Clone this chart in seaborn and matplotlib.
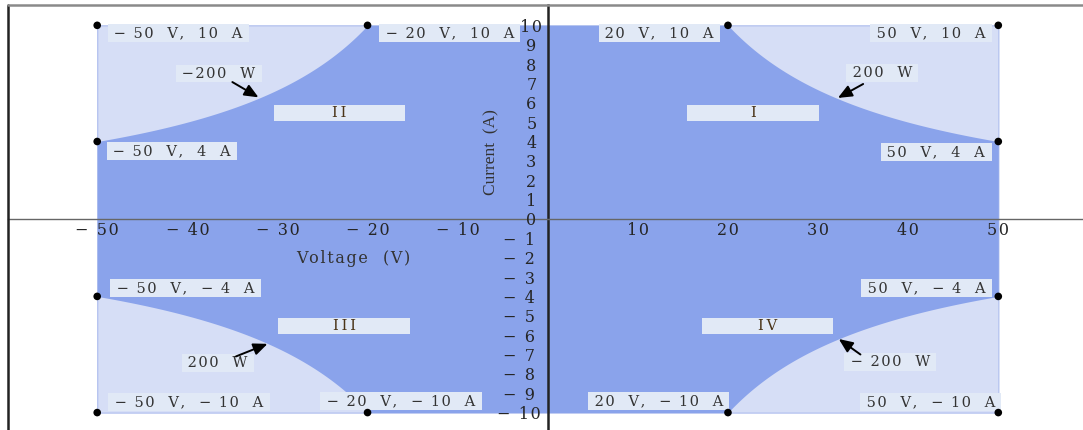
import numpy as np
import matplotlib
matplotlib.use("Agg")
import matplotlib.pyplot as plt
from matplotlib.lines import Line2D
from matplotlib.patches import Rectangle
import matplotlib.transforms as mtransforms
import seaborn as sns
import pandas as pd

# ---------------- data ----------------
voltage_limit = 50      # V
current_limit = 10      # A
power_limit = 200       # W
voltage_ticks = [-50, -40, -30, -20, -10, 10, 20, 30, 40, 50]
current_ticks = list(range(-10, 11))

corner_voltage = [-50, -20, 20, 50, -50, 50, -50, 50, -50, -20, 20, 50]
corner_current = [10, 10, 10, 10, 4, 4, -4, -4, -10, -10, -10, -10]
corner_labels = ["− 50  V,  10  A", "− 20  V,  10  A", "20  V,  10  A", "50  V,  10  A",
                 "− 50  V,  4  A", "50  V,  4  A", "− 50  V,  − 4  A", "50  V,  − 4  A",
                 "− 50  V,  − 10  A", "− 20  V,  − 10  A", "20  V,  − 10  A", "50  V,  − 10  A"]

quadrant_names = ["I", "II", "III", "IV"]
power_labels = ["200  W", "−200  W", "200  W", "− 200  W"]

# ---------------- layout (label positions) ----------------
corner_label_pos = [(-41.0, 9.6), (-10.9, 9.6), (12.4, 9.6), (42.5, 9.6),
                    (-41.7, 3.5), (43.1, 3.46), (-40.2, -3.56), (42.0, -3.56),
                    (-39.8, -9.45), (-16.3, -9.4), (12.3, -9.4), (42.5, -9.45)]
quadrant_pos = [(22.8, 5.47), (-23.1, 5.47), (-22.6, -5.52), (24.4, -5.52)]
power_text_pos = [(37.1, 7.54), (-36.5, 7.5), (-36.6, -7.43), (38.0, -7.4)]
power_arrow_tail = [(35.0, 6.97), (-35.0, 7.07), (-34.6, -7.1), (34.7, -7.0)]
power_arrow_head = [(32.2, 6.25), (-32.1, 6.28), (-31.1, -6.45), (32.3, -6.2)]

light_col = "#d6def6"
dark_col = "#8aa3eb"
box_col = "#e1e9f6"
text_col = "#333333"

sns.set_theme(style="white")
plt.rcParams['font.family'] = ['DejaVu Serif', 'Liberation Serif']
plt.rcParams['axes.axisbelow'] = False

SP = "\u200a"


def spaced(s):
    return SP.join(list(s))


W, H = 1083, 430
fig = plt.figure(figsize=(W / 100, H / 100), dpi=100)
ax = fig.add_axes([8 / W, 0, 1 - 8 / W, 425 / H])
ax.set_axisbelow(False)
ax.set_xlim(-59.9, 59.4)
ax.set_ylim(-10.9, 11.05)

# regions
v = np.linspace(-voltage_limit, voltage_limit, 2001)
with np.errstate(divide="ignore"):
    i_max = np.minimum(current_limit, power_limit / np.abs(v))
df = pd.DataFrame({"V": v, "Imax": i_max})
ax.fill_between(df["V"], -current_limit, current_limit, color=light_col,
                edgecolor="#b8c5f0", linewidth=1, zorder=0.5)
ax.fill_between(df["V"], -df["Imax"], df["Imax"], color=dark_col, linewidth=0, zorder=0.6)

# corner points
pts = pd.DataFrame({"V": corner_voltage, "I": corner_current})
sns.scatterplot(data=pts, x="V", y="I", color="black", s=30, edgecolor="none",
                ax=ax, zorder=5, clip_on=False)
ax.set_xlabel("")
ax.set_ylabel("")

FS = 10.5
# corner labels
for (x, y), t in zip(corner_label_pos, corner_labels):
    ax.text(x, y, " " + spaced(t) + " ", ha="center", va="center", fontsize=FS,
            color=text_col, zorder=4,
            bbox=dict(boxstyle="square,pad=0.12", fc=box_col, ec="none"))

# quadrant boxes
bw, bh = 14.6, 0.83
for (x, y), t in zip(quadrant_pos, quadrant_names):
    ax.add_patch(Rectangle((x - bw / 2, y - bh / 2), bw, bh, fc=box_col, ec="none", zorder=4))
    ax.text(x, y, "\u2009".join(t), ha="center", va="center",
            fontsize=FS, color="#4a3418", zorder=4.5)

# power labels + arrows
for (x, y), t, tail, head in zip(power_text_pos, power_labels, power_arrow_tail, power_arrow_head):
    ax.text(x, y, " " + spaced(t) + " ", ha="center", va="center", fontsize=FS,
            color=text_col, zorder=4,
            bbox=dict(boxstyle="square,pad=0.12", fc=box_col, ec="none"))
    ax.annotate("", xy=head, xytext=tail, zorder=4,
                arrowprops=dict(arrowstyle="-|>,head_length=0.7,head_width=0.3",
                                color="black", lw=1.4, shrinkA=0, shrinkB=0))

# axes at zero
for s in ["top", "right"]:
    ax.spines[s].set_visible(False)
ax.spines["left"].set_position(("data", 0))
ax.spines["bottom"].set_position(("data", 0))
ax.spines["left"].set_color("#222222")
ax.spines["left"].set_linewidth(1.8)
ax.spines["bottom"].set_color("#666666")
ax.spines["bottom"].set_linewidth(1.0)


def fmt(val):
    return spaced(f"− {abs(val)}") if val < 0 else spaced(str(val))


ax.set_xticks(voltage_ticks)
ax.set_xticklabels([fmt(t) for t in voltage_ticks])
ax.set_yticks(current_ticks)
ax.set_yticklabels([fmt(t) for t in current_ticks], ha="center")
ax.tick_params(axis="x", direction="in", length=5, width=1.8, pad=2,
               labelsize=11.5, labelcolor="#262626", color="#222222")
ax.tick_params(axis="y", direction="in", length=11, width=1.5, pad=14,
               labelsize=11.5, labelcolor="#262626", color="#222222")
ax.grid(False)

# shift positive/negative y tick labels a little (as in the reference)
for val, lab in zip(current_ticks, ax.get_yticklabels()):
    dx = 3 if val >= 0 else -9
    off = mtransforms.ScaledTranslation(dx / 100, 0, fig.dpi_scale_trans)
    lab.set_transform(lab.get_transform() + off)

ax.text(-21.6, -2.05, spaced("Voltage  (V)"), ha="center", va="center", fontsize=11.5,
        color=text_col)
ax.text(-6.27, 3.43, "Current  (A)", ha="center", va="center", rotation=90, fontsize=12.5,
        color=text_col, fontfamily="Liberation Serif")

# outer frame (left and top lines)
fig.add_artist(Line2D([7.5 / W, 7.5 / W], [0, 1 - 5 / H], color="#222222", lw=1.8))
fig.add_artist(Line2D([7.5 / W, 1], [1 - 5 / H, 1 - 5 / H], color="#8a8a8a", lw=1.8))

fig.savefig("out.png", dpi=100)
